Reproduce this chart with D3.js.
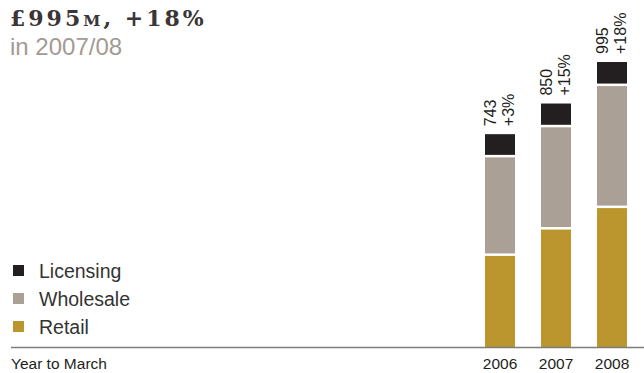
<!DOCTYPE html>
<html>
<head>
<meta charset="utf-8">
<script src="https://cdn.jsdelivr.net/npm/d3@7"></script>
<style>
  html, body { margin: 0; padding: 0; background: #fff; }
  svg { display: block; }
</style>
</head>
<body>
<svg id="chart" width="644" height="373"></svg>
<script>
// Revenue by channel, £ million, year to March
const years = ["2006", "2007", "2008"];
const retail = [318, 410, 485];
const wholesale = [344, 357, 426];
const licensing = [81, 83, 84];
const totals = [743, 850, 995];
const growth = ["+3%", "+15%", "+18%"];

const seriesNames = ["Retail", "Wholesale", "Licensing"];
const seriesColors = ["#bb962e", "#aba096", "#231f20"];

const svg = d3.select("#chart");
const sans = "'Liberation Sans', Arial, Helvetica, sans-serif";

const baseY = 347;
const x = d3.scaleBand().domain(years).range([472, 640])
  .paddingInner(26 / 56).paddingOuter(13 / 56);
const y = d3.scaleLinear().domain([0, 995]).range([baseY, 62]);

const rows = years.map((yr, i) => ({
  year: yr, Retail: retail[i], Wholesale: wholesale[i], Licensing: licensing[i]
}));
const stacked = d3.stack().keys(seriesNames)(rows);

// Stacked segments, separated by a thin white gap
const gap = 2.5;
stacked.forEach((layer, li) => {
  svg.append("g").attr("fill", seriesColors[li])
    .selectAll("rect").data(layer).join("rect")
    .attr("x", d => x(d.data.year))
    .attr("width", x.bandwidth())
    .attr("y", d => y(d[1]))
    .attr("height", d => {
      const top = y(d[1]);
      const bottom = y(d[0]) - (li > 0 ? gap : 0);
      return Math.max(0, bottom - top);
    });
});

// Baseline
svg.append("line")
  .attr("x1", 11).attr("x2", 644)
  .attr("y1", baseY + 0.5).attr("y2", baseY + 0.5)
  .attr("stroke", "#7d7d7d").attr("stroke-width", 1.3);

// Year labels
const xAxis = svg.append("g")
  .attr("transform", `translate(0,${baseY})`)
  .call(d3.axisBottom(x).tickSize(0).tickPadding(11));
xAxis.select(".domain").remove();
xAxis.selectAll("text")
  .attr("font-family", sans).attr("font-size", "15.5px").attr("fill", "#231f20");

svg.append("text")
  .attr("x", 11).attr("y", 369)
  .attr("font-family", sans).attr("font-size", "15.5px").attr("fill", "#231f20")
  .text("Year to March");

// Totals and growth, rotated above each bar
years.forEach((yr, i) => {
  const g = svg.append("g")
    .attr("transform", `translate(${x(yr)},${y(totals[i]) - 8}) rotate(-90)`);
  const t = g.append("text")
    .attr("font-family", sans).attr("font-size", "16px").attr("fill", "#231f20");
  t.append("tspan").attr("x", 0).attr("y", 11).text(totals[i]);
  t.append("tspan").attr("x", 0).attr("y", 29).text(growth[i]);
});

// Legend
const legendItems = ["Licensing", "Wholesale", "Retail"];
const legendColors = ["#231f20", "#aba096", "#bb962e"];
legendItems.forEach((name, i) => {
  const ly = 265 + i * 28;
  svg.append("rect")
    .attr("x", 13).attr("y", ly).attr("width", 11).attr("height", 11)
    .attr("fill", legendColors[i]);
  svg.append("text")
    .attr("x", 39).attr("y", ly + 13)
    .attr("font-family", sans).attr("font-size", "19.5px").attr("fill", "#333")
    .text(name);
});

// Headline
const title = svg.append("text")
  .attr("x", 10).attr("y", 26)
  .attr("font-family", "'DejaVu Serif', Georgia, serif")
  .attr("font-weight", "bold").attr("font-size", "22px")
  .attr("letter-spacing", "3px")
  .attr("fill", "#3a3536");
title.append("tspan").text("£995");
title.append("tspan").attr("font-size", "15.5px").text("M");
title.append("tspan").text(", +18%");

svg.append("text")
  .attr("x", 10).attr("y", 55)
  .attr("font-family", sans).attr("font-size", "24px").attr("fill", "#a39a93")
  .text("in 2007/08");
</script>
</body>
</html>
